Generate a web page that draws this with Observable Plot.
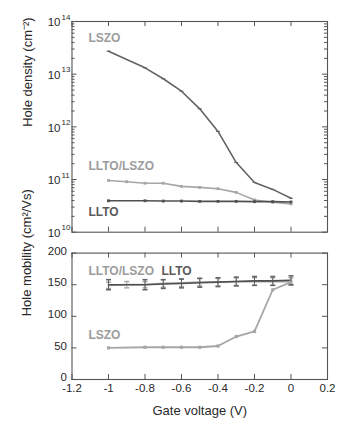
<!DOCTYPE html>
<html><head><meta charset="utf-8">
<script src="https://cdn.jsdelivr.net/npm/d3@7"></script>
<script src="https://cdn.jsdelivr.net/npm/@observablehq/plot@0.6"></script>
<style>body{margin:0;background:#fff;font-family:"Liberation Sans",Arial,sans-serif}svg{display:block;overflow:visible}</style>
</head><body><div id="chart"></div>
<script>
// ---- data ----
const voltsA = [-1, -0.8, -0.7, -0.6, -0.5, -0.4, -0.3, -0.2, -0.1, 0];          // LSZO, LLTO
const voltsB = [-1, -0.9, -0.8, -0.7, -0.6, -0.5, -0.4, -0.3, -0.2, -0.1, 0];    // LLTO/LSZO
const densityLSZO = [2.73e13, 1.32e13, 8.2e12, 4.75e12, 2.2e12, 8.2e11, 2.1e11, 8.8e10, 6.5e10, 4.4e10];
const densityLLTOLSZO = [9.6e10, 9.1e10, 8.5e10, 8.5e10, 7.4e10, 7.1e10, 6.7e10, 5.7e10, 4.1e10, 3.7e10, 3.45e10];
const densityLLTO = [3.95e10, 3.95e10, 3.9e10, 3.9e10, 3.85e10, 3.85e10, 3.85e10, 3.8e10, 3.8e10, 3.75e10];
const mobilityLSZO = [50, 51, 51, 51, 51, 53, 68, 76, 142, 154];
const mobilityLLTOLSZO = [149, 150, 150, 152, 153, 154, 154, 155, 155, 155, 155];
const mobilityLLTO = [150, 150, 151, 152, 153, 154, 155, 156, 156, 157];
const errLLTOLSZO = [5, 5, 5, 6, 6, 6, 6, 6, 6, 6, 6];
const errLLTO = [8, 8, 7, 7, 7, 7, 7, 7, 7, 7];
const xTicks = [-1.2, -1, -0.8, -0.6, -0.4, -0.2, 0, 0.2];
const xTickLabels = ["-1.2", "-1", "-0.8", "-0.6", "-0.4", "-0.2", "0", "0.2"];
const densityTicks = [1e10, 1e11, 1e12, 1e13, 1e14];
const densityTickBase = "10";
const densityTickExponents = ["10", "11", "12", "13", "14"];
const mobilityTicks = [0, 50, 100, 150, 200];
const topLabels = [
  {x: -1.11, y: 4.8e13, text: "LSZO", c: "#9c9c9c"},
  {x: -1.11, y: 1.78e11, text: "LLTO/LSZO", c: "#9c9c9c"},
  {x: -1.11, y: 2.45e10, text: "LLTO", c: "#5a5a5a"}
];
const bottomLabels = [
  {x: -1.11, y: 172, text: "LLTO/LSZO", c: "#9c9c9c"},
  {x: -0.71, y: 172, text: "LLTO", c: "#5a5a5a"},
  {x: -1.11, y: 70, text: "LSZO", c: "#9c9c9c"}
];

// ---- helpers ----
const DARK = "#636363", DARKER = "#505050", LIGHT = "#a6a6a6", FRAME = "#555", INK = "#2a2a2a";
const minorDensity = [];
for (let e = 10; e < 14; e++) for (let m = 2; m <= 9; m++) minorDensity.push(m * Math.pow(10, e));
const capSymbol = {draw(ctx, size) { const w = Math.sqrt(size / Math.PI); ctx.moveTo(-w, 0); ctx.lineTo(w, 0); }};
const fmtX = d => xTickLabels[xTicks.indexOf(d)];
const zip = (xs, ys, es) => xs.map((x, i) => ({x, y: ys[i], e: es ? es[i] : 0}));
const plotStyle = {fontFamily: "Liberation Sans, Arial, sans-serif", fontSize: "11px", color: INK, overflow: "visible"};

const W = 349;
// top panel geometry
const tTop = 21, tH = 240, tBottom = 8.3, mL = 71.5, mR = 22;
const tFrameH = tH - tTop - tBottom, frameW = W - mL - mR;

const dLSZO = zip(voltsA, densityLSZO), dMix = zip(voltsB, densityLLTOLSZO), dLLTO = zip(voltsA, densityLLTO);

const densityPlot = Plot.plot({
  width: W, height: tH, marginTop: tTop, marginBottom: tBottom, marginLeft: mL, marginRight: mR,
  style: plotStyle,
  x: {domain: [-1.2, 0.2], axis: null},
  y: {type: "log", domain: [1e10, 1e14], axis: null},
  marks: [
    Plot.frame({stroke: FRAME, strokeWidth: 1.1}),
    Plot.tickX(xTicks, {x: d => d, insetTop: tFrameH - 5, stroke: FRAME}),
    Plot.tickX(xTicks, {x: d => d, insetBottom: tFrameH - 5, stroke: FRAME}),
    Plot.tickY(densityTicks, {y: d => d, insetRight: frameW - 5, stroke: FRAME}),
    Plot.tickY(densityTicks, {y: d => d, insetLeft: frameW - 5, stroke: FRAME}),
    Plot.tickY(minorDensity, {y: d => d, insetRight: frameW - 3, stroke: FRAME}),
    Plot.tickY(minorDensity, {y: d => d, insetLeft: frameW - 3, stroke: FRAME}),
    Plot.axisY({ticks: densityTicks, tickSize: 0, tickPadding: 11.5, tickFormat: () => densityTickBase, label: null, fontSize: 11.5, dy: 1}),
    Plot.text(densityTicks, {y: d => d, frameAnchor: "left", text: (d, i) => densityTickExponents[i], textAnchor: "start", dx: -10.5, dy: -4.5, fontSize: 8, fill: INK}),
    Plot.text(["Hole density (cm⁻²)"], {frameAnchor: "left", rotate: -90, dx: -44, fontSize: 13, fill: INK}),
    Plot.line(dMix, {x: "x", y: "y", stroke: LIGHT, strokeWidth: 1.6}),
    Plot.dot(dMix, {x: "x", y: "y", symbol: "square", r: 1.6, fill: LIGHT}),
    Plot.line(dLLTO, {x: "x", y: "y", stroke: DARKER, strokeWidth: 1.6}),
    Plot.dot(dLLTO, {x: "x", y: "y", symbol: "square", r: 1.6, fill: DARKER}),
    Plot.line(dLSZO, {x: "x", y: "y", stroke: DARK, strokeWidth: 1.6}),
    Plot.dot(dLSZO, {x: "x", y: "y", symbol: capSymbol, r: 2, stroke: DARK, strokeWidth: 1}),
    Plot.text(topLabels, {x: "x", y: "y", text: "text", fill: "c", textAnchor: "start", fontSize: 12, fontWeight: "bold"})
  ]
});

// bottom panel geometry
const bH = 181, bTop = 12.6, bBottom = 42;
const bFrameH = bH - bTop - bBottom;
const mLSZO = zip(voltsA, mobilityLSZO), mMix = zip(voltsB, mobilityLLTOLSZO, errLLTOLSZO), mLLTO = zip(voltsA, mobilityLLTO, errLLTO);

const mobilityPlot = Plot.plot({
  width: W, height: bH, marginTop: bTop, marginBottom: bBottom, marginLeft: mL, marginRight: mR,
  style: plotStyle,
  x: {domain: [-1.2, 0.2], axis: null},
  y: {domain: [0, 200], axis: null},
  marks: [
    Plot.frame({stroke: FRAME, strokeWidth: 1.1}),
    Plot.tickX(xTicks, {x: d => d, insetTop: bFrameH - 5, stroke: FRAME}),
    Plot.tickX(xTicks, {x: d => d, insetBottom: bFrameH - 5, stroke: FRAME}),
    Plot.tickY(mobilityTicks, {y: d => d, insetRight: frameW - 5, stroke: FRAME}),
    Plot.tickY(mobilityTicks, {y: d => d, insetLeft: frameW - 5, stroke: FRAME}),
    Plot.axisY({ticks: mobilityTicks, tickSize: 0, tickPadding: 5, label: null, fontSize: 11.5, dy: -2}),
    Plot.axisX({ticks: xTicks, tickSize: 0, tickPadding: 4, tickFormat: fmtX, label: null, fontSize: 11.5}),
    Plot.text(["Hole mobility (cm²/Vs)"], {frameAnchor: "left", rotate: -90, dx: -45, fontSize: 13, fill: INK}),
    Plot.text(["Gate voltage (V)"], {frameAnchor: "bottom", dy: 35, fontSize: 13, fill: INK}),
    Plot.ruleX(mMix, {x: "x", y1: d => d.y - d.e, y2: d => d.y + d.e, stroke: LIGHT, strokeWidth: 1}),
    Plot.dot(mMix, {x: "x", y: d => d.y - d.e, symbol: capSymbol, r: 2.5, stroke: LIGHT}),
    Plot.dot(mMix, {x: "x", y: d => d.y + d.e, symbol: capSymbol, r: 2.5, stroke: LIGHT}),
    Plot.line(mMix, {x: "x", y: "y", stroke: LIGHT, strokeWidth: 1.8}),
    Plot.ruleX(mLLTO, {x: "x", y1: d => d.y - d.e, y2: d => d.y + d.e, stroke: DARK, strokeWidth: 1}),
    Plot.dot(mLLTO, {x: "x", y: d => d.y - d.e, symbol: capSymbol, r: 2.5, stroke: DARK}),
    Plot.dot(mLLTO, {x: "x", y: d => d.y + d.e, symbol: capSymbol, r: 2.5, stroke: DARK}),
    Plot.line(mLLTO, {x: "x", y: "y", stroke: DARKER, strokeWidth: 1.6}),
    Plot.line(mLSZO, {x: "x", y: "y", stroke: LIGHT, strokeWidth: 1.8}),
    Plot.dot(mLSZO, {x: "x", y: "y", symbol: "square", r: 1.8, fill: LIGHT}),
    Plot.text(bottomLabels, {x: "x", y: "y", text: "text", fill: "c", textAnchor: "start", fontSize: 12, fontWeight: "bold"})
  ]
});

const root = document.getElementById("chart");
root.append(densityPlot, mobilityPlot);
</script>
</body></html>
